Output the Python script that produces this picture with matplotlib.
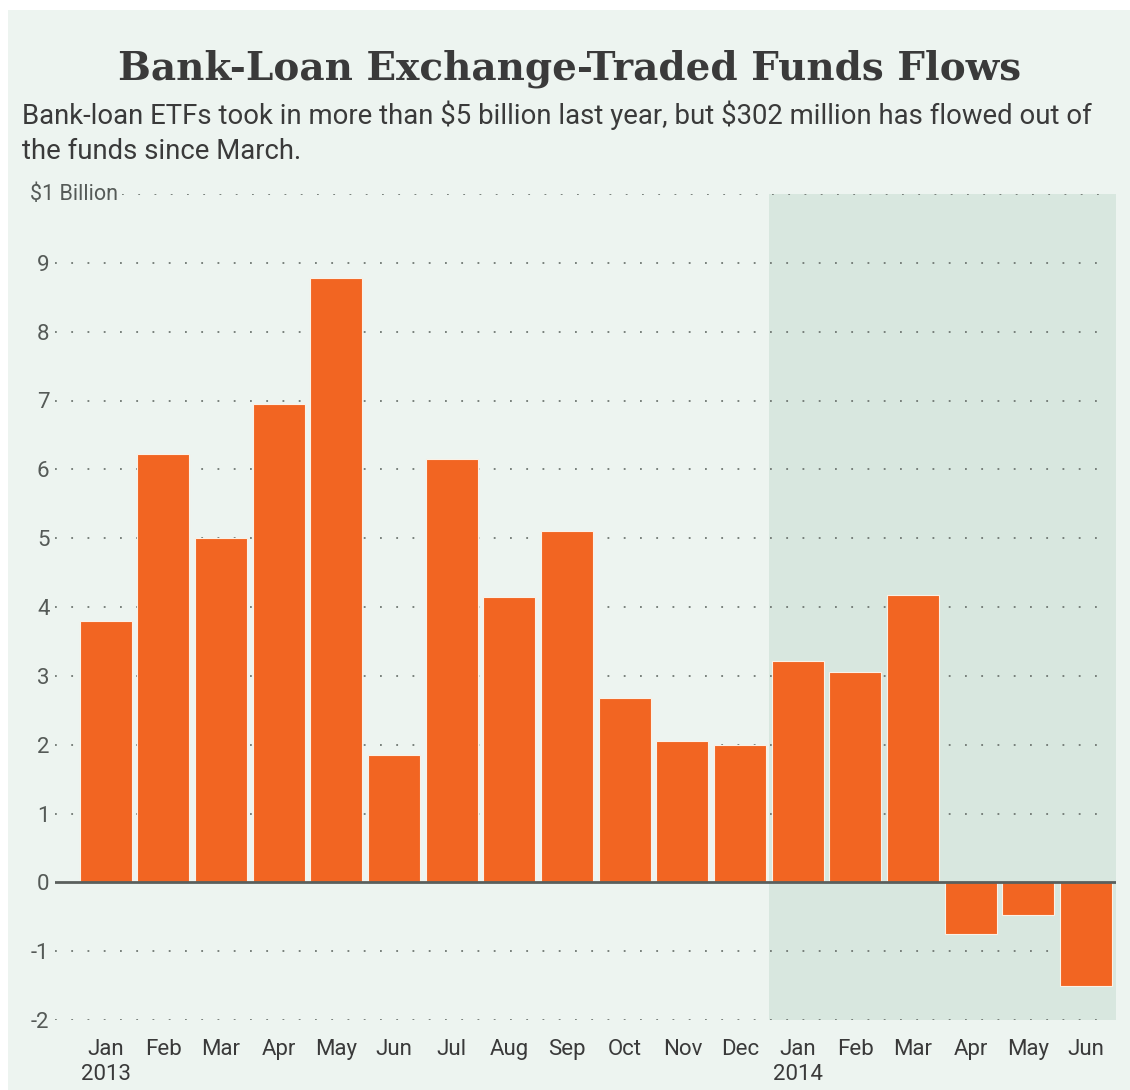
import matplotlib.pyplot as plt
from matplotlib.patches import Rectangle

# monthly net flows, $ billions
months = ['Jan\n2013', 'Feb', 'Mar', 'Apr', 'May', 'Jun', 'Jul', 'Aug', 'Sep',
          'Oct', 'Nov', 'Dec', 'Jan\n2014', 'Feb', 'Mar', 'Apr', 'May', 'Jun']
flows = [3.8, 6.22, 5.0, 6.95, 8.78, 1.85, 6.15, 4.15, 5.1,
         2.68, 2.06, 1.99, 3.22, 3.06, 4.18, -0.75, -0.48, -1.5]
yticks = [-2, -1, 0, 1, 2, 3, 4, 5, 6, 7, 8, 9]
shade_start = 12  # first month of 2014

title = 'Bank-Loan Exchange-Traded Funds Flows'
sub1 = r'Bank-loan ETFs took in more than \$5 billion last year, but \$302 million has flowed out of'
sub2 = 'the funds since March.'

BG = '#edf4f0'
SHADE = '#d8e7df'
ORANGE = '#f26522'
TXT = '#3a3a3a'
sans = ['Roboto', 'DejaVu Sans']

fig = plt.figure(figsize=(11.3, 10.9), dpi=100, facecolor='white')
fig.patches.append(Rectangle((8 / 1130, 0), 1, (1090 - 10) / 1090,
                             transform=fig.transFigure, facecolor=BG,
                             edgecolor='none', zorder=-10))

fig.text(0.504, 0.927, title, ha='center', va='baseline', fontsize=28,
         family='DejaVu Serif', weight='bold', color=TXT)
fig.text(22 / 1130, 0.886, sub1, ha='left', va='baseline', fontsize=19.8,
         family=sans, color=TXT)
fig.text(22 / 1130, 0.854, sub2, ha='left', va='baseline', fontsize=19.8,
         family=sans, color=TXT)

ax = fig.add_axes([55 / 1130, 70 / 1090, 1061 / 1130, 826 / 1090])
ax.set_facecolor('none')
ax.set_xlim(-0.88, 17.52)
ax.set_ylim(-2, 10)

x = list(range(len(flows)))
ax.axvspan(shade_start - 0.5, 17.52, color=SHADE, zorder=0, lw=0)

# dotted grid
for y in yticks + [10]:
    if y == 0:
        continue
    start = 0.063 if y == 10 else 0.0
    ax.axhline(y, xmin=start, xmax=0.994, color='#6f7772',
               linestyle=(0, (1, 8)), lw=1.3, zorder=1)

ax.bar(x, flows, width=0.9, color=ORANGE, edgecolor='#fbf1e6', lw=0.8, zorder=3)
ax.axhline(0, color='#5a5f5c', lw=2, zorder=4)

ax.set_xticks(x)
ax.set_xticklabels(months, family=sans, fontsize=16, color=TXT, linespacing=1.25)
ax.set_yticks(yticks)
ax.set_yticklabels([str(v) for v in yticks], family=sans, fontsize=16, color='#555a57')
ax.tick_params(axis='both', length=0)
ax.tick_params(axis='y', pad=4)
ax.tick_params(axis='x', pad=14)
ax.text(0.059, 10, r'\$1 Billion', transform=ax.get_yaxis_transform(),
        ha='right', va='center', family=sans, fontsize=15.5, color='#555a57')

for s in ax.spines.values():
    s.set_visible(False)

fig.savefig('out.png', dpi=100, facecolor='white')
